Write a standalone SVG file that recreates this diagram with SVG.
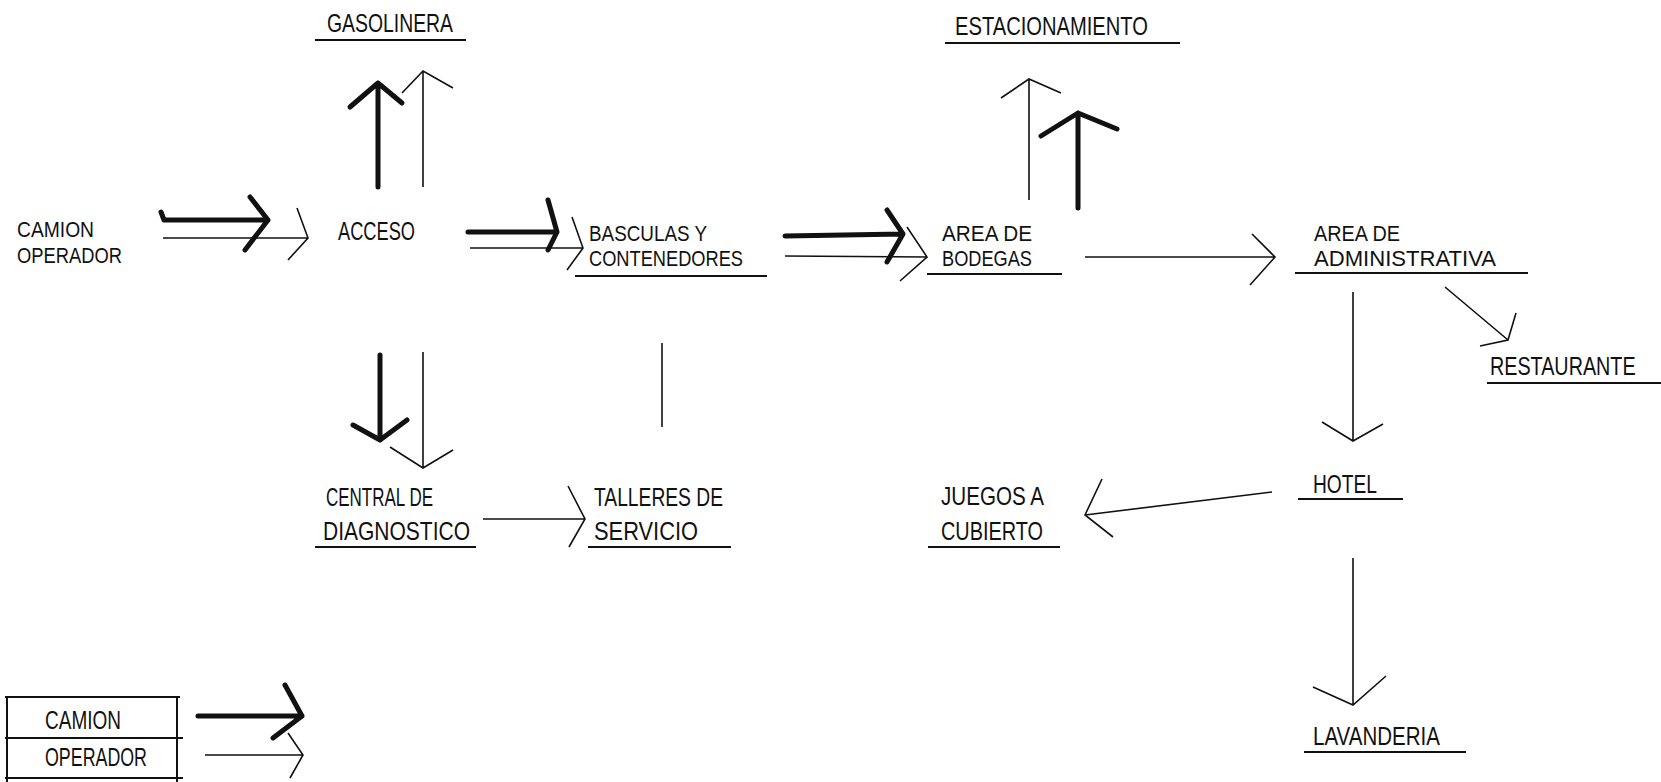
<svg xmlns="http://www.w3.org/2000/svg" width="1661" height="782" viewBox="0 0 1661 782">
<style>
text{font-family:"Liberation Sans",Arial,sans-serif;font-size:26px;fill:#111;}
text.t{font-size:22px;}
.ul{stroke:#111;stroke-width:2;fill:none;}
.thin{stroke:#111;stroke-width:1.6;fill:none;stroke-linejoin:miter;}
.thick{stroke:#111;stroke-width:5;fill:none;stroke-linecap:round;stroke-linejoin:round;}
.box{stroke:#111;stroke-width:2;fill:none;}
</style>
<rect width="1661" height="782" fill="#fff"/>
<g id="camion-operador">
<text class="t" x="17" y="237" textLength="77" lengthAdjust="spacingAndGlyphs">CAMION</text>
<text class="t" x="17" y="263" textLength="105" lengthAdjust="spacingAndGlyphs">OPERADOR</text>
</g>
<g id="acceso">
<text x="338" y="240" textLength="77" lengthAdjust="spacingAndGlyphs">ACCESO</text>
</g>
<g id="gasolinera">
<text x="327" y="32" textLength="126" lengthAdjust="spacingAndGlyphs">GASOLINERA</text>
<path class="ul" d="M315,40 L466,40"/>
</g>
<g id="basculas">
<text class="t" x="589" y="241" textLength="118" lengthAdjust="spacingAndGlyphs">BASCULAS Y</text>
<text class="t" x="589" y="266" textLength="154" lengthAdjust="spacingAndGlyphs">CONTENEDORES</text>
<path class="ul" d="M575,276 L767,276"/>
</g>
<g id="estacionamiento">
<text x="955" y="35" textLength="193" lengthAdjust="spacingAndGlyphs">ESTACIONAMIENTO</text>
<path class="ul" d="M945,43 L1180,43"/>
</g>
<g id="bodegas">
<text class="t" x="942" y="241" textLength="90" lengthAdjust="spacingAndGlyphs">AREA DE</text>
<text class="t" x="942" y="266" textLength="90" lengthAdjust="spacingAndGlyphs">BODEGAS</text>
<path class="ul" d="M927,274 L1062,274"/>
</g>
<g id="administrativa">
<text class="t" x="1314" y="241" textLength="86" lengthAdjust="spacingAndGlyphs">AREA DE</text>
<text class="t" x="1314" y="266" textLength="182" lengthAdjust="spacingAndGlyphs">ADMINISTRATIVA</text>
<path class="ul" d="M1295,273 L1528,273"/>
</g>
<g id="restaurante">
<text transform="translate(1490 375) scale(0.76 1)" x="0" y="0">RESTAURANTE</text>
<path class="ul" d="M1487,383 L1661,383"/>
</g>
<g id="central">
<text x="326" y="506" textLength="107" lengthAdjust="spacingAndGlyphs">CENTRAL DE</text>
<text x="323" y="540" textLength="147" lengthAdjust="spacingAndGlyphs">DIAGNOSTICO</text>
<path class="ul" d="M315,547 L476,547"/>
</g>
<g id="talleres">
<text x="594" y="506" textLength="129" lengthAdjust="spacingAndGlyphs">TALLERES DE</text>
<text x="594" y="540" textLength="104" lengthAdjust="spacingAndGlyphs">SERVICIO</text>
<path class="ul" d="M588,547 L731,547"/>
</g>
<g id="juegos">
<text x="941" y="505" textLength="103" lengthAdjust="spacingAndGlyphs">JUEGOS A</text>
<text x="941" y="540" textLength="102" lengthAdjust="spacingAndGlyphs">CUBIERTO</text>
<path class="ul" d="M928,547 L1060,547"/>
</g>
<g id="hotel">
<text x="1313" y="493" textLength="64" lengthAdjust="spacingAndGlyphs">HOTEL</text>
<path class="ul" d="M1298,499 L1403,499"/>
</g>
<g id="lavanderia">
<text x="1313" y="745" textLength="127" lengthAdjust="spacingAndGlyphs">LAVANDERIA</text>
<path class="ul" d="M1304,752 L1466,752"/>
</g>
<g id="legend">
<path class="box" d="M5,697 L180,697 M7,697 L7,782 M177,697 L177,782 M5,738 L183,738 M5,778 L183,778"/>
<text x="45" y="729" textLength="76" lengthAdjust="spacingAndGlyphs">CAMION</text>
<text x="45" y="766" textLength="102" lengthAdjust="spacingAndGlyphs">OPERADOR</text>
</g>
<g id="connectors">
<path class="thick" d="M161,212 L164,220 L268,220 M250,197 L268,220 L245,250"/>
<path class="thin" d="M163,238 L308,238 M297,208 L308,238 L288,260"/>
<path class="thick" d="M378,187 L378,83 M350,107 L378,83 L402,103"/>
<path class="thin" d="M423,187 L423,71 M402,93 L423,71 L453,88"/>
<path class="thick" d="M468,232 L557,232 M548,200 L557,232 L548,250"/>
<path class="thin" d="M470,248 L583,248 M572,217 L583,248 L567,270"/>
<path class="thick" d="M785,236 L903,234 M887,210 L903,234 L887,262"/>
<path class="thin" d="M785,256 L927,257 M907,227 L927,257 L900,281"/>
<path class="thin" d="M1029,200 L1029,79 M1001,98 L1029,79 L1061,93"/>
<path class="thick" d="M1078,208 L1078,113 M1041,136 L1078,113 L1117,129"/>
<path class="thin" d="M1085,257 L1275,257 M1252,234 L1275,257 L1250,285"/>
<path class="thin" d="M1445,287 L1508,340 M1516,313 L1508,340 L1480,346"/>
<path class="thin" d="M1353,292 L1353,441 M1322,422 L1353,441 L1383,424"/>
<path class="thin" d="M1272,492 L1085,515 M1102,479 L1085,515 L1113,537"/>
<path class="thin" d="M1353,558 L1353,705 M1313,687 L1353,705 L1386,676"/>
<path class="thick" d="M380,355 L380,440 M353,425 L380,440 L407,420"/>
<path class="thin" d="M423,352 L423,468 M390,447 L423,468 L453,450"/>
<path class="thin" d="M483,519 L585,519 M568,486 L585,519 L569,547"/>
<path class="thin" d="M662,343 L662,427"/>
<path class="thick" d="M198,716 L302,716 M285,685 L302,716 L273,738"/>
<path class="thin" d="M205,755 L303,755 M288,733 L303,755 L290,778"/>
</g>
</svg>
